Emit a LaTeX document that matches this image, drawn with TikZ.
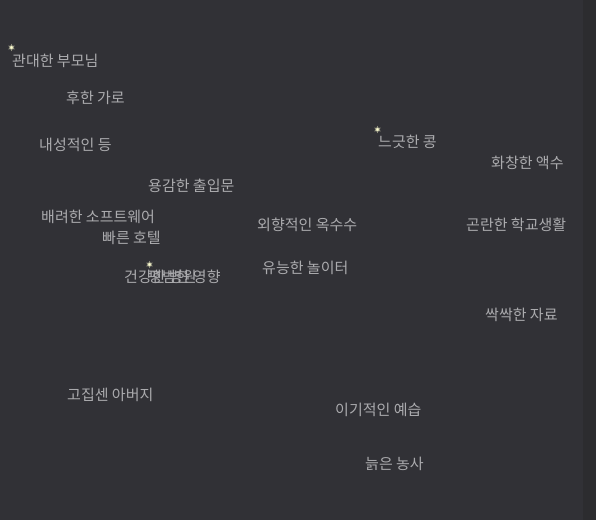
\documentclass[tikz,border=0pt]{standalone}
\usepackage{fontspec}
\usetikzlibrary{shapes.geometric}
\newfontfamily\kr{Noto Sans CJK KR}
\definecolor{bg}{HTML}{313136}
\definecolor{strip}{HTML}{2C2C2F}
\definecolor{lbl}{HTML}{ABABAE}
\definecolor{starc}{HTML}{FFFFD2}
\begin{document}
\begin{tikzpicture}[x=1pt,y=-1pt,
  lab/.style={anchor=base west,inner sep=0pt,text=lbl,font=\kr\fontsize{15}{15}\selectfont},
  starmark/.style={star,star points=6,star point ratio=2,fill=starc,inner sep=0pt,minimum size=6pt,draw=starc!50!bg,line width=0.6pt}]
\fill[bg] (0,0) rectangle (596,520);
\fill[strip] (583,0) rectangle (596,520);
\useasboundingbox (0,0) rectangle (596,520);
\node[lab] (n1) at (12,66) {관대한 부모님};
\node[lab] (n2) at (66,103) {후한 가로};
\node[lab] (n3) at (39,150) {내성적인 등};
\node[lab] (n4) at (378,147) {느긋한 콩};
\node[lab] (n5) at (491,168) {화창한 액수};
\node[lab] (n6) at (148,191) {용감한 출입문};
\node[lab] (n7) at (41,222) {배려한 소프트웨어};
\node[lab] (n8) at (102,243) {빠른 호텔};
\node[lab] (n9) at (257,230) {외향적인 옥수수};
\node[lab] (n10) at (466,230) {곤란한 학교생활};
\node[lab] (n11) at (124,282) {건강한 병원};
\node[lab] (n12) at (148,282) {평범한 영향};
\node[lab] (n13) at (262,273) {유능한 놀이터};
\node[lab] (n14) at (485,320) {싹싹한 자료};
\node[lab] (n15) at (67,400) {고집센 아버지};
\node[lab] (n16) at (335,415) {이기적인 예습};
\node[lab] (n17) at (365,469) {늙은 농사};
\node[starmark] (s1) at (11.5,47.5) {};
\node[starmark] (s2) at (377.5,129.5) {};
\node[starmark] (s3) at (149.5,264.5) {};
\end{tikzpicture}
\end{document}
